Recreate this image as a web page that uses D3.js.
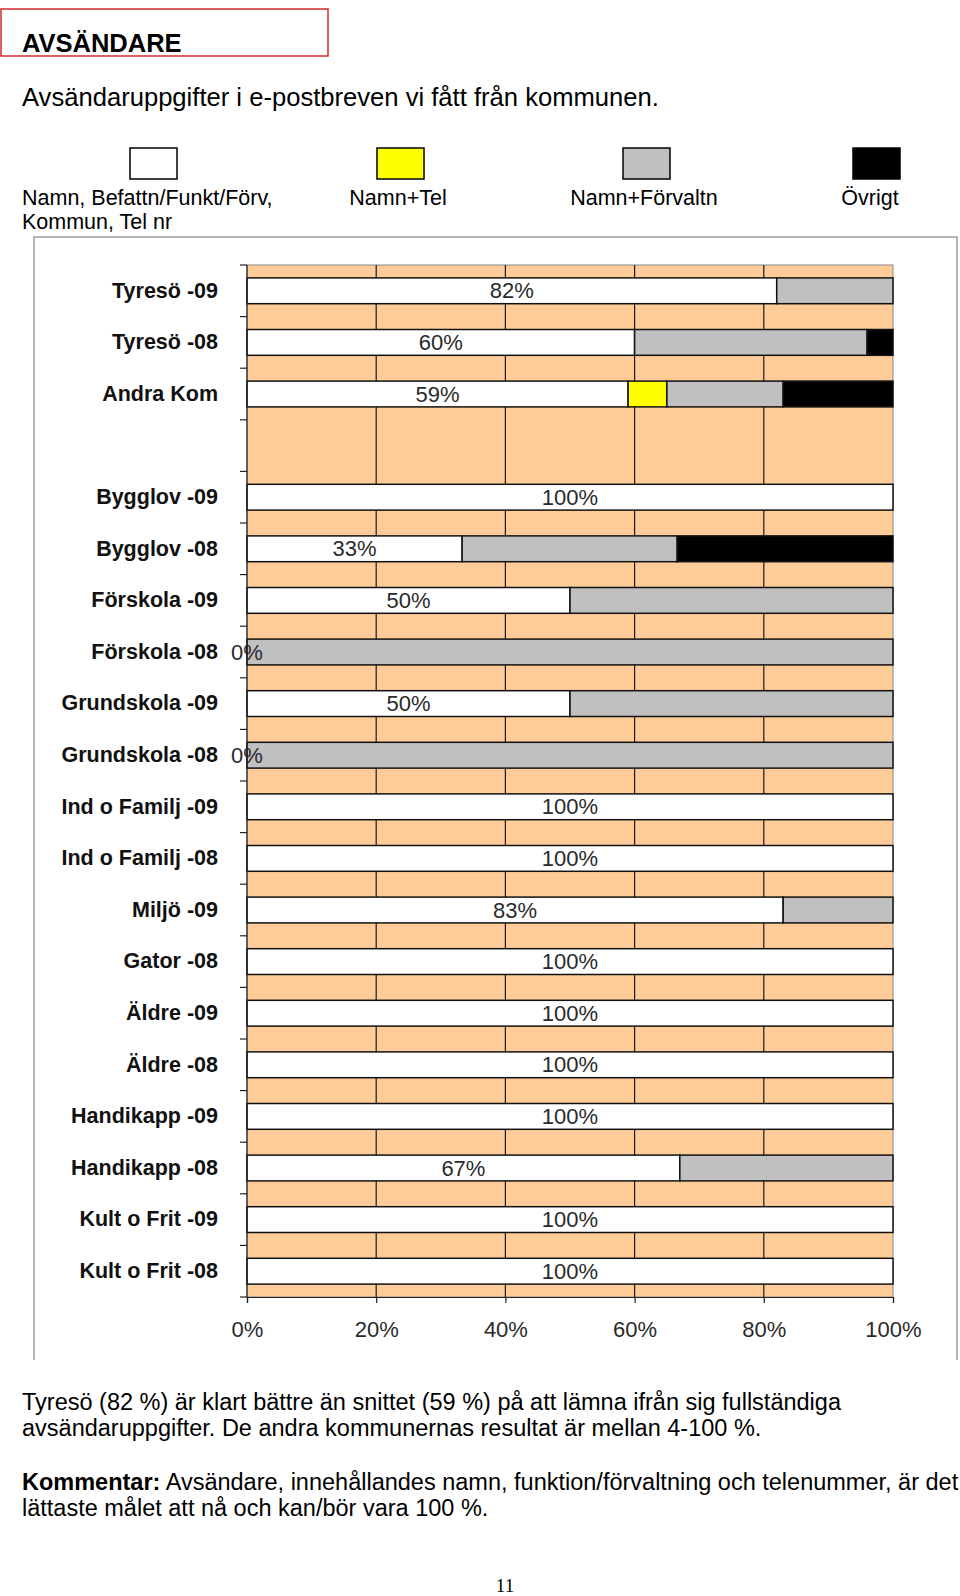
<!DOCTYPE html>
<html>
<head>
<meta charset="utf-8">
<script src="https://cdn.jsdelivr.net/npm/d3@7"></script>
<style>
  body { margin: 0; background: #fff; }
  svg { display: block; font-family: "Liberation Sans", Arial, sans-serif; }
</style>
</head>
<body>
<svg id="chart" width="960" height="1596"></svg>
<script>
// categories, top to bottom (the empty row is a spacer in the original chart)
const categories = ['Tyresö -09', 'Tyresö -08', 'Andra Kom', ' ', 'Bygglov -09', 'Bygglov -08',
  'Förskola -09', 'Förskola -08', 'Grundskola -09', 'Grundskola -08', 'Ind o Familj -09',
  'Ind o Familj -08', 'Miljö -09', 'Gator -08', 'Äldre -09', 'Äldre -08', 'Handikapp -09',
  'Handikapp -08', 'Kult o Frit -09', 'Kult o Frit -08'];

// percent per series, same order as categories (null = no bar)
const namnFull = [82, 60, 59, null, 100, 33.3, 50, 0, 50, 0, 100, 100, 83, 100, 100, 100, 100, 67, 100, 100];
const namnTel  = [0, 0, 6, null, 0, 0, 0, 0, 0, 0, 0, 0, 0, 0, 0, 0, 0, 0, 0, 0];
const namnForv = [18, 36, 18, null, 0, 33.3, 50, 100, 50, 100, 0, 0, 17, 0, 0, 0, 0, 33, 0, 0];
const ovrigt   = [0, 4, 17, null, 0, 33.4, 0, 0, 0, 0, 0, 0, 0, 0, 0, 0, 0, 0, 0, 0];

const seriesNames = ['Namn, Befattn/Funkt/Förv,\nKommun, Tel nr', 'Namn+Tel', 'Namn+Förvaltn', 'Övrigt'];
const seriesColors = ['#ffffff', '#ffff00', '#c0c0c0', '#000000'];
const xTicks = [0, 20, 40, 60, 80, 100];

const keys = ['full', 'tel', 'forv', 'ovr'];
const table = categories.map((c, i) => ({
  cat: c, blank: namnFull[i] === null,
  full: namnFull[i] || 0, tel: namnTel[i] || 0, forv: namnForv[i] || 0, ovr: ovrigt[i] || 0
}));

const svg = d3.select('#chart');

// header
svg.append('rect').attr('x', 1).attr('y', 9).attr('width', 327).attr('height', 47)
  .attr('fill', 'none').attr('stroke', '#d42a2a').attr('stroke-width', 1.5);
svg.append('text').attr('x', 22).attr('y', 52).attr('font-size', 25.5).attr('font-weight', 'bold')
  .text('AVSÄNDARE');
svg.append('text').attr('x', 22).attr('y', 106).attr('font-size', 25.6)
  .text('Avsändaruppgifter i e-postbreven vi fått från kommunen.');

// legend
const legendX = [153, 400, 646, 876];
const lg = svg.append('g').selectAll('g').data(seriesNames).join('g');
lg.append('rect')
  .attr('x', (d, i) => legendX[i] - 23).attr('y', 148).attr('width', 47).attr('height', 31)
  .attr('fill', (d, i) => seriesColors[i]).attr('stroke', '#000').attr('stroke-width', 1.5);
lg.append('text')
  .attr('x', (d, i) => i === 0 ? 22 : legendX[i] - (i === 3 ? 6 : 2))
  .attr('y', 205).attr('font-size', 21.5)
  .attr('text-anchor', (d, i) => i === 0 ? 'start' : 'middle')
  .selectAll('tspan').data(d => d.split('\n')).join('tspan')
  .attr('x', function () { return d3.select(this.parentNode).attr('x'); })
  .attr('dy', (d, i) => i ? 24 : 0)
  .text(d => d);

// chart frame (open at the bottom)
svg.append('path').attr('d', 'M34,1360V237H957V1360')
  .attr('fill', 'none').attr('stroke', '#9a9a9a').attr('stroke-width', 1.5);

const x = d3.scaleLinear().domain([0, 100]).range([247, 893]);
const y = d3.scaleBand().domain(categories).range([265, 1297]).paddingInner(0.5).paddingOuter(0.25);

// plot area
svg.append('rect').attr('x', x(0)).attr('y', 265).attr('width', x(100) - x(0)).attr('height', 1297 - 265)
  .attr('fill', '#ffcc99').attr('stroke', '#8a8a8a').attr('stroke-width', 1);

svg.append('g').selectAll('line').data(xTicks.slice(1, -1)).join('line')
  .attr('x1', d => x(d)).attr('x2', d => x(d)).attr('y1', 265).attr('y2', 1297)
  .attr('stroke', '#1a1a1a').attr('stroke-width', 1.2);

// stacked bars
const stacked = d3.stack().keys(keys)(table.filter(d => !d.blank));
svg.append('g').selectAll('g').data(stacked).join('g')
  .attr('fill', (d, i) => seriesColors[i])
  .selectAll('rect').data(d => d.filter(s => s[1] - s[0] > 0)).join('rect')
  .attr('x', d => x(d[0])).attr('width', d => x(d[1]) - x(d[0]))
  .attr('y', d => y(d.data.cat)).attr('height', y.bandwidth())
  .attr('stroke', '#111').attr('stroke-width', 1.5);

// value labels on the first segment
svg.append('g').selectAll('text').data(table.filter(d => !d.blank)).join('text')
  .attr('x', d => x(d.full / 2)).attr('y', d => y(d.cat) + y.bandwidth() / 2 + 7.5)
  .attr('text-anchor', 'middle').attr('font-size', 22).attr('fill', '#2a2a2a')
  .text(d => Math.round(d.full) + '%');

// y axis: category boundaries as ticks
const bounds = categories.map(c => y(c) - y.step() * y.paddingInner() / 2).concat([1297]);
bounds[0] = 265;
const ya = svg.append('g');
ya.append('line').attr('x1', x(0)).attr('x2', x(0)).attr('y1', 265).attr('y2', 1297)
  .attr('stroke', '#222').attr('stroke-width', 1.2);
ya.selectAll('.tk').data(bounds).join('line').attr('class', 'tk')
  .attr('x1', x(0) - 7).attr('x2', x(0)).attr('y1', d => d).attr('y2', d => d)
  .attr('stroke', '#222').attr('stroke-width', 1.2);

svg.append('g').attr('transform', `translate(${x(0)},0)`)
  .call(d3.axisLeft(y).tickSize(0).tickPadding(29))
  .call(g => g.select('.domain').remove())
  .selectAll('text').attr('font-size', 21.5).attr('font-weight', 'bold').attr('fill', '#111')
  .attr('font-family', '"Liberation Sans", Arial, sans-serif');

// x axis
svg.append('g').attr('transform', 'translate(0,1297)')
  .call(d3.axisBottom(x).tickValues(xTicks).tickFormat(d => d + '%').tickSize(6).tickPadding(18))
  .call(g => g.select('.domain').attr('stroke', '#222').attr('stroke-width', 1.2))
  .call(g => g.selectAll('line').attr('stroke', '#222').attr('stroke-width', 1.2))
  .selectAll('text').attr('font-size', 22).attr('fill', '#2a2a2a')
  .attr('font-family', '"Liberation Sans", Arial, sans-serif');

// comment text below
const body = [
  { y: 1410, parts: [['', 'Tyresö (82 %) är klart bättre än snittet (59 %) på att lämna ifrån sig fullständiga']] },
  { y: 1436, parts: [['', 'avsändaruppgifter. De andra kommunernas resultat är mellan 4-100 %.']] },
  { y: 1490, parts: [['bold', 'Kommentar:'], ['', ' Avsändare, innehållandes namn, funktion/förvaltning och telenummer, är det']] },
  { y: 1516, parts: [['', 'lättaste målet att nå och kan/bör vara 100 %.']] }
];
svg.append('g').selectAll('text').data(body).join('text')
  .attr('x', 22).attr('y', d => d.y).attr('font-size', 23.5)
  .selectAll('tspan').data(d => d.parts).join('tspan')
  .attr('font-weight', d => d[0] || null).text(d => d[1]);

svg.append('text').attr('x', 505).attr('y', 1592).attr('text-anchor', 'middle')
  .attr('font-family', '"Liberation Serif", "Times New Roman", serif').attr('font-size', 19)
  .text('11');
</script>
</body>
</html>
